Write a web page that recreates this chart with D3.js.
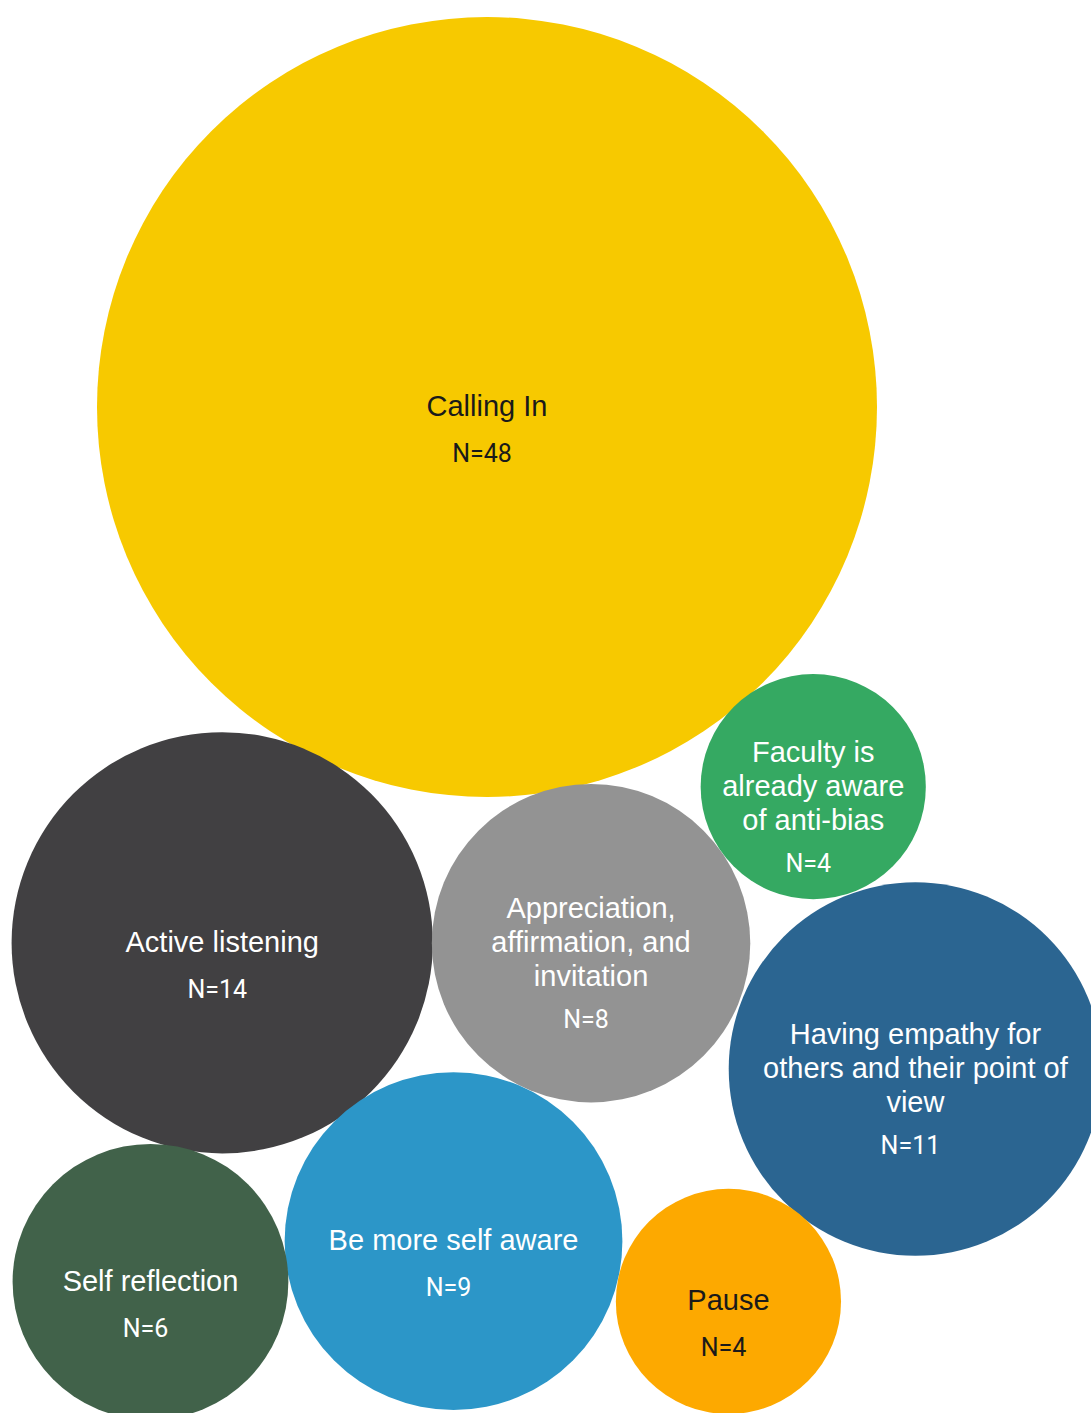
<!DOCTYPE html>
<html>
<head>
<meta charset="utf-8">
<script src="https://cdn.jsdelivr.net/npm/d3@7"></script>
<style>
  html, body { margin: 0; padding: 0; background: #ffffff; overflow: hidden; }
  svg { display: block; }
</style>
</head>
<body>
<svg id="chart" width="1091" height="1413"></svg>
<script>
// ---- data ----
const categories = [
  "Calling In",
  "Active listening",
  "Appreciation, affirmation, and invitation",
  "Faculty is already aware of anti-bias",
  "Having empathy for others and their point of view",
  "Be more self aware",
  "Self reflection",
  "Pause"
];
const counts = [48, 14, 8, 4, 11, 9, 6, 4];

// ---- styles ----
const fills = ["#f7c900", "#414042", "#939393", "#35a962", "#2b6591", "#2c96c8", "#41624a", "#fda900"];
const textFills = ["#1a1a1a", "#ffffff", "#ffffff", "#ffffff", "#ffffff", "#ffffff", "#ffffff", "#1a1a1a"];

// ---- layout ----
const width = 1091, height = 1413;
const radius = d3.scaleSqrt().domain([0, d3.max(counts)]).range([0, 390]);

// The largest bubble anchors the cluster; the second sits against it at a set
// angle, and every further bubble is placed against two bubbles already
// placed: [index a, index b, side of the a→b line, gap to a, gap to b].
// Negative gaps let neighbours nestle slightly into each other.
const anchor = { x: 487, y: 407 };
const secondAngle = 116.3 * Math.PI / 180;
const secondGap = -3;
const tangency = [
  [0, 1, -1, -3, -1],
  [0, 2, -1, -2, 0],
  [2, 3, 1, 2, 1],
  [1, 2, 1, -2, 0],
  [1, 5, 1, -2, -1],
  [5, 4, 1, 0, -1]
];

const nodes = categories.map((name, i) => ({
  name, n: counts[i], r: radius(counts[i]), fill: fills[i], textFill: textFills[i]
}));

nodes[0].x = anchor.x;
nodes[0].y = anchor.y;
{
  const d = nodes[0].r + nodes[1].r + secondGap;
  nodes[1].x = nodes[0].x + d * Math.cos(secondAngle);
  nodes[1].y = nodes[0].y + d * Math.sin(secondAngle);
}

function placeTangent(p, q, c, side, gapP, gapQ) {
  const dP = p.r + c.r + gapP, dQ = q.r + c.r + gapQ;
  const dx = q.x - p.x, dy = q.y - p.y;
  const d = Math.hypot(dx, dy);
  const a = (dP * dP - dQ * dQ + d * d) / (2 * d);
  const h = Math.sqrt(Math.max(0, dP * dP - a * a));
  const bx = p.x + a * dx / d, by = p.y + a * dy / d;
  c.x = bx + side * h * (-dy / d);
  c.y = by + side * h * (dx / d);
}
tangency.forEach(([ia, ib, side, ga, gb], k) =>
  placeTangent(nodes[ia], nodes[ib], nodes[k + 2], side, ga, gb));

// ---- drawing ----
const svg = d3.select("#chart");
svg.append("rect").attr("width", width).attr("height", height).attr("fill", "#ffffff");

const bubble = svg.append("g").selectAll("g")
  .data(nodes)
  .join("g")
  .attr("transform", d => `translate(${d.x},${d.y})`);

bubble.append("circle")
  .attr("r", d => d.r)
  .attr("fill", d => d.fill);

const labelFont = "'Liberation Sans', Arial, Helvetica, sans-serif";
const countFont = "Roboto, 'Liberation Sans', Arial, sans-serif";
const lineStep = 34;

bubble.each(function (d) {
  const g = d3.select(this);
  const label = g.append("text")
    .attr("text-anchor", "middle")
    .attr("fill", d.textFill)
    .style("font-family", labelFont)
    .style("font-size", "29px");

  // wrap the category name to fit inside its bubble
  const maxW = d.r * 1.76;
  const words = d.name.split(" ");
  const lines = [];
  let current = [];
  const probe = label.append("tspan");
  words.forEach(w => {
    const trial = current.concat(w).join(" ");
    probe.text(trial);
    if (current.length && probe.node().getComputedTextLength() > maxW) {
      lines.push(current.join(" "));
      current = [w];
    } else {
      current.push(w);
    }
  });
  if (current.length) lines.push(current.join(" "));
  probe.remove();

  const n = lines.length;
  lines.forEach((line, i) => {
    label.append("tspan")
      .attr("x", 0)
      .attr("y", 9 + (i - (n - 1) / 2) * lineStep)
      .text(line);
  });

  const lastY = 9 + ((n - 1) / 2) * lineStep;
  g.append("text")
    .attr("text-anchor", "middle")
    .attr("x", -5)
    .attr("y", lastY + (n > 1 ? 42 : 46))
    .attr("fill", d.textFill)
    .style("font-family", countFont)
    .style("font-size", "25px")
    .text(`N=${d.n}`);
});
</script>
</body>
</html>
